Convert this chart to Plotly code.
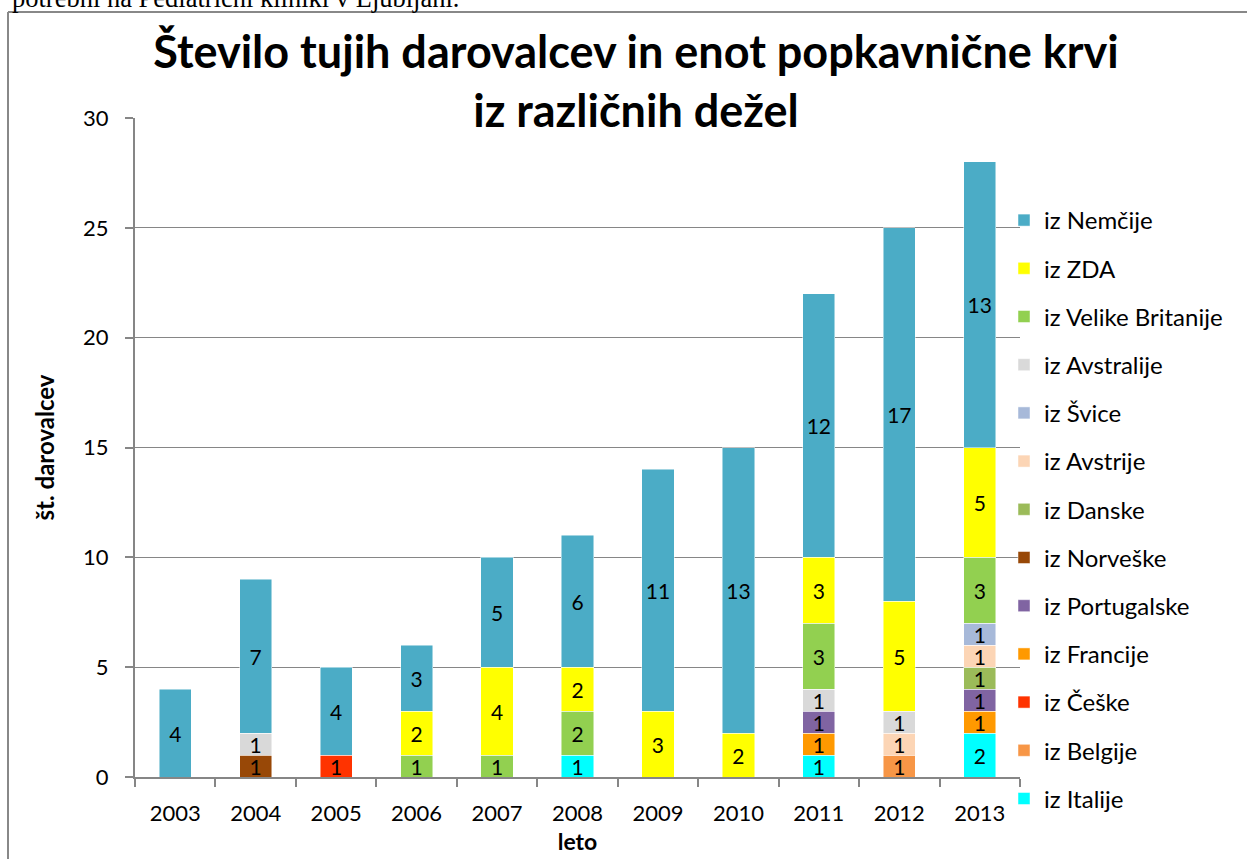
import plotly.graph_objects as go

years = ["2003", "2004", "2005", "2006", "2007", "2008", "2009", "2010", "2011", "2012", "2013"]

# series in stacking order (bottom -> top)
italije     = [None, None, None, None, None, 1, None, None, 1, None, 2]
belgije     = [None, None, None, None, None, None, None, None, None, 1, None]
ceske       = [None, None, 1, None, None, None, None, None, None, None, None]
francije    = [None, None, None, None, None, None, None, None, 1, None, 1]
portugalske = [None, None, None, None, None, None, None, None, 1, None, 1]
norveske    = [None, 1, None, None, None, None, None, None, None, None, None]
danske      = [None, None, None, None, None, None, None, None, None, None, 1]
avstrije    = [None, None, None, None, None, None, None, None, None, 1, 1]
svice       = [None, None, None, None, None, None, None, None, None, None, 1]
avstralije  = [None, 1, None, None, None, None, None, None, 1, 1, None]
v_britanije = [None, None, None, 1, 1, 2, None, None, 3, None, 3]
zda         = [None, None, None, 2, 4, 2, 3, 2, 3, 5, 5]
nemcije     = [4, 7, 4, 3, 5, 6, 11, 13, 12, 17, 13]

series = [
    ("iz Italije", italije, "#00FFFF"),
    ("iz Belgije", belgije, "#F79646"),
    ("iz Češke", ceske, "#FF3300"),
    ("iz Francije", francije, "#FF9900"),
    ("iz Portugalske", portugalske, "#8064A2"),
    ("iz Norveške", norveske, "#984807"),
    ("iz Danske", danske, "#9BBB59"),
    ("iz Avstrije", avstrije, "#FCD5B5"),
    ("iz Švice", svice, "#A7B9D9"),
    ("iz Avstralije", avstralije, "#D9D9D9"),
    ("iz Velike Britanije", v_britanije, "#92D050"),
    ("iz ZDA", zda, "#FFFF00"),
    ("iz Nemčije", nemcije, "#4BACC6"),
]

FONT = "Lato"

fig = go.Figure()
n = len(series)
for i, (name, vals, col) in enumerate(series):
    fig.add_trace(go.Bar(
        x=years, y=vals, name=name,
        marker=dict(color=col, line=dict(width=0.8, color="rgba(255,255,255,0.6)")),
        text=[str(v) if v else "" for v in vals],
        textposition="inside", insidetextanchor="middle",
        textangle=0, constraintext="none",
        textfont=dict(family=FONT, size=21, color="black"),
        legendgroup="g%d" % i, legendrank=n - i,
    ))

W, H = 1247, 859
L, R, T, B = 135, 227, 118, 82
pw, ph = W - L - R, H - T - B

def px(x):
    return (x - L) / pw

def py(y):
    return (H - B - y) / ph

fig.update_layout(
    width=W, height=H,
    margin=dict(l=L, r=R, t=T, b=B, autoexpand=False),
    barmode="stack", bargap=0.6,
    paper_bgcolor="white", plot_bgcolor="white",
    font=dict(family=FONT, size=22, color="black"),
    title=dict(
        text="<b>Število tujih darovalcev in enot popkavnične krvi<br>iz različnih dežel</b>",
        xref="container", yref="container",
        x=636 / W, xanchor="center", y=1 - 68 / H, yanchor="middle",
        font=dict(family=FONT, size=45, color="black"),
    ),
    xaxis=dict(
        title=dict(text="<b>leto</b>", font=dict(size=23), standoff=8),
        showline=True, linecolor="#868686", linewidth=2,
        ticks="outside", ticklen=8, tickcolor="#868686", tickwidth=2,
        tickson="boundaries", showgrid=False, automargin=False,
        tickfont=dict(size=22), ticklabelstandoff=16,
    ),
    yaxis=dict(
        title=dict(text="<b>št. darovalcev</b>", font=dict(size=24), standoff=22),
        range=[0, 30], dtick=5, automargin=False,
        showline=True, linecolor="#868686", linewidth=2,
        ticks="outside", ticklen=8, tickcolor="#868686", tickwidth=2,
        showgrid=True, gridcolor="#868686", gridwidth=1.3,
        tickfont=dict(size=22), zeroline=False, ticklabelstandoff=12,
    ),
    legend=dict(
        x=px(1004), y=py(198), xanchor="left", yanchor="top",
        traceorder="grouped", tracegroupgap=14,
        font=dict(family=FONT, size=24),
        bgcolor="rgba(0,0,0,0)",
        itemclick=False,
    ),
    showlegend=True,
)

# outer border of the embedded chart object
fig.add_shape(type="line", xref="paper", yref="paper",
              x0=px(8), x1=px(1260), y0=py(12), y1=py(12),
              line=dict(color="#888888", width=2))
fig.add_shape(type="line", xref="paper", yref="paper",
              x0=px(8), x1=px(8), y0=py(12), y1=py(870),
              line=dict(color="#888888", width=2))

# cut-off document text above the chart
fig.add_annotation(
    text="potrebni na Pediatrični kliniki v Ljubljani.",
    xref="paper", yref="paper", x=px(10), y=py(15),
    xanchor="left", yanchor="bottom", showarrow=False,
    font=dict(family="Liberation Serif", size=26.5, color="black"),
)

fig.write_html("out.html", config={"displayModeBar": False},
               post_script="document.body.style.margin='0';")
